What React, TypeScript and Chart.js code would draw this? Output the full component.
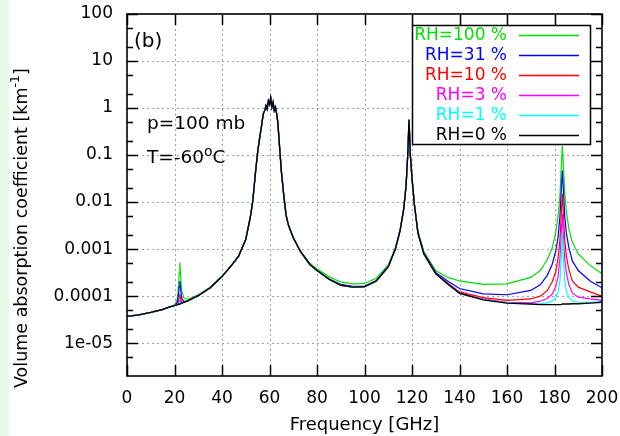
import React, { useEffect, useRef } from "react";
import { Chart, registerables } from "chart.js";

Chart.register(...registerables);

// Frequency grid [GHz]
const frequencyGHz = [
  0, 5, 10, 15, 18, 20, 21, 21.5, 22, 22.235, 22.5, 23, 24, 26, 30, 35, 40, 44, 47, 50,
  52, 53, 54, 55, 56, 56.5, 57, 57.5, 58, 58.5, 59, 59.5, 60, 60.5, 61, 61.5, 62, 62.5, 63, 63.5,
  64, 65, 66, 67, 68, 70, 73, 77, 80, 85, 90, 95, 100, 105, 110, 113, 115, 116.5, 117.5, 118.2,
  118.75, 119.3, 120, 121, 122.5, 125, 130, 135, 140, 150, 160, 170, 174, 177, 179, 180.5, 181.5, 182.3, 182.8, 183.31,
  183.8, 184.3, 185, 186, 187.5, 190, 195, 200,
];

// Volume absorption coefficient [km^-1]
const rh0 = [
  3.7e-5, 4.0e-5, 4.5e-5, 5.2e-5, 5.9e-5, 6.3e-5, 6.5e-5, 6.6e-5, 6.7e-5, 6.8e-5, 6.9e-5, 7.1e-5, 7.4e-5, 8.1e-5, 1.02e-4, 1.5e-4, 2.6e-4, 4.5e-4, 7.1e-4, 1.6e-3,
  5.0e-3, 1.1e-2, 3.8e-2, 0.115, 0.26, 0.37, 0.56, 0.79, 0.89, 1.12, 0.95, 1.41, 1.2, 1.66, 1.05, 1.32, 0.89, 1.05, 0.76, 0.5,
  0.22, 0.045, 0.014, 5.2e-3, 3.2e-3, 1.74e-3, 8.9e-4, 4.7e-4, 3.5e-4, 2.3e-4, 1.7e-4, 1.55e-4, 1.58e-4, 2.1e-4, 4.2e-4, 1.0e-3, 2.5e-3, 7.1e-3, 0.022, 0.1,
  0.56, 0.1, 0.032, 8.9e-3, 2.2e-3, 7.9e-4, 3.0e-4, 1.82e-4, 1.15e-4, 8.3e-5, 7.1e-5, 6.8e-5, 6.6e-5, 6.6e-5, 6.6e-5, 6.6e-5, 6.6e-5, 6.6e-5, 6.6e-5, 6.8e-5,
  6.8e-5, 6.8e-5, 6.8e-5, 6.8e-5, 6.9e-5, 6.9e-5, 7.1e-5, 7.4e-5,
];
const rh1 = [
  3.7e-5, 4.0e-5, 4.5e-5, 5.2e-5, 5.9e-5, 6.3e-5, 6.5e-5, 6.6e-5, 6.7e-5, 7.6e-5, 6.9e-5, 7.1e-5, 7.4e-5, 8.1e-5, 1.02e-4, 1.5e-4, 2.6e-4, 4.5e-4, 7.1e-4, 1.6e-3,
  5.0e-3, 1.1e-2, 3.8e-2, 0.115, 0.26, 0.37, 0.56, 0.79, 0.89, 1.12, 0.95, 1.41, 1.2, 1.66, 1.05, 1.32, 0.89, 1.05, 0.76, 0.5,
  0.22, 0.045, 0.014, 5.2e-3, 3.2e-3, 1.74e-3, 8.9e-4, 4.7e-4, 3.5e-4, 2.3e-4, 1.7e-4, 1.55e-4, 1.58e-4, 2.1e-4, 4.2e-4, 1.0e-3, 2.5e-3, 7.1e-3, 0.022, 0.1,
  0.56, 0.1, 0.032, 8.9e-3, 2.2e-3, 7.9e-4, 3.0e-4, 1.82e-4, 1.15e-4, 8.4e-5, 7.2e-5, 6.8e-5, 6.9e-5, 7.2e-5, 7.9e-5, 9.3e-5, 1.2e-4, 2.2e-4, 6.3e-4, 2.4e-3,
  6.3e-4, 2.2e-4, 1.26e-4, 9.5e-5, 7.9e-5, 7.4e-5, 7.4e-5, 7.6e-5,
];
const rh3 = [
  3.7e-5, 4.0e-5, 4.5e-5, 5.2e-5, 5.9e-5, 6.3e-5, 6.5e-5, 6.6e-5, 7.8e-5, 8.7e-5, 7.8e-5, 7.1e-5, 7.4e-5, 8.1e-5, 1.02e-4, 1.5e-4, 2.6e-4, 4.5e-4, 7.1e-4, 1.6e-3,
  5.0e-3, 1.1e-2, 3.8e-2, 0.115, 0.26, 0.37, 0.56, 0.79, 0.89, 1.12, 0.95, 1.41, 1.2, 1.66, 1.05, 1.32, 0.89, 1.05, 0.76, 0.5,
  0.22, 0.045, 0.014, 5.2e-3, 3.2e-3, 1.74e-3, 8.9e-4, 4.7e-4, 3.5e-4, 2.3e-4, 1.7e-4, 1.56e-4, 1.59e-4, 2.1e-4, 4.2e-4, 1.0e-3, 2.5e-3, 7.1e-3, 0.022, 0.1,
  0.56, 0.1, 0.032, 8.9e-3, 2.2e-3, 7.9e-4, 3.0e-4, 1.84e-4, 1.18e-4, 8.7e-5, 7.4e-5, 7.2e-5, 7.8e-5, 8.9e-5, 1.1e-4, 1.58e-4, 2.6e-4, 6.3e-4, 1.78e-3, 5.6e-3,
  1.78e-3, 6.0e-4, 3.2e-4, 1.78e-4, 1.17e-4, 9.5e-5, 8.7e-5, 8.1e-5,
];
const rh10 = [
  3.7e-5, 4.0e-5, 4.5e-5, 5.2e-5, 5.9e-5, 6.3e-5, 6.6e-5, 7.1e-5, 9.5e-5, 1.12e-4, 9.3e-5, 7.4e-5, 7.4e-5, 8.1e-5, 1.02e-4, 1.5e-4, 2.6e-4, 4.5e-4, 7.1e-4, 1.6e-3,
  5.0e-3, 1.1e-2, 3.8e-2, 0.115, 0.26, 0.37, 0.56, 0.79, 0.89, 1.12, 0.95, 1.41, 1.2, 1.66, 1.05, 1.32, 0.89, 1.05, 0.76, 0.5,
  0.22, 0.045, 0.014, 5.2e-3, 3.2e-3, 1.74e-3, 8.9e-4, 4.7e-4, 3.5e-4, 2.3e-4, 1.72e-4, 1.58e-4, 1.6e-4, 2.1e-4, 4.2e-4, 1.0e-3, 2.5e-3, 7.1e-3, 0.022, 0.1,
  0.56, 0.1, 0.032, 8.9e-3, 2.2e-3, 8.0e-4, 3.05e-4, 1.9e-4, 1.23e-4, 9.3e-5, 8.1e-5, 8.7e-5, 1.0e-4, 1.32e-4, 2.0e-4, 3.3e-4, 6.3e-4, 1.58e-3, 5.0e-3, 0.015,
  5.0e-3, 1.58e-3, 7.1e-4, 3.8e-4, 2.1e-4, 1.55e-4, 1.23e-4, 1.0e-4,
];
const rh31 = [
  3.7e-5, 4.0e-5, 4.5e-5, 5.2e-5, 5.9e-5, 6.3e-5, 7.1e-5, 8.9e-5, 1.6e-4, 2.1e-4, 1.6e-4, 8.9e-5, 7.6e-5, 8.2e-5, 1.03e-4, 1.5e-4, 2.6e-4, 4.5e-4, 7.1e-4, 1.6e-3,
  5.0e-3, 1.1e-2, 3.8e-2, 0.115, 0.26, 0.37, 0.56, 0.79, 0.89, 1.12, 0.95, 1.41, 1.2, 1.66, 1.05, 1.32, 0.89, 1.05, 0.76, 0.5,
  0.22, 0.045, 0.014, 5.2e-3, 3.2e-3, 1.74e-3, 8.9e-4, 4.7e-4, 3.55e-4, 2.35e-4, 1.78e-4, 1.62e-4, 1.64e-4, 2.15e-4, 4.3e-4, 1.0e-3, 2.5e-3, 7.1e-3, 0.022, 0.1,
  0.56, 0.1, 0.032, 8.9e-3, 2.2e-3, 8.3e-4, 3.2e-4, 2.1e-4, 1.45e-4, 1.12e-4, 1.07e-4, 1.32e-4, 1.74e-4, 2.8e-4, 4.7e-4, 8.9e-4, 1.78e-3, 5.0e-3, 0.016, 0.047,
  0.016, 5.0e-3, 2.2e-3, 1.12e-3, 5.6e-4, 3.5e-4, 2.1e-4, 1.5e-4,
];
const rh100 = [
  3.7e-5, 4.0e-5, 4.5e-5, 5.2e-5, 5.9e-5, 6.5e-5, 7.9e-5, 1.2e-4, 3.2e-4, 5.2e-4, 3.2e-4, 1.3e-4, 8.9e-5, 8.7e-5, 1.07e-4, 1.55e-4, 2.7e-4, 4.6e-4, 7.2e-4, 1.6e-3,
  5.0e-3, 1.1e-2, 3.8e-2, 0.115, 0.26, 0.37, 0.56, 0.79, 0.89, 1.12, 0.95, 1.41, 1.2, 1.66, 1.05, 1.32, 0.89, 1.05, 0.76, 0.5,
  0.22, 0.045, 0.014, 5.2e-3, 3.2e-3, 1.78e-3, 9.3e-4, 5.0e-4, 3.8e-4, 2.6e-4, 2.0e-4, 1.82e-4, 1.86e-4, 2.4e-4, 4.6e-4, 1.07e-3, 2.6e-3, 7.1e-3, 0.022, 0.1,
  0.56, 0.1, 0.032, 9.3e-3, 2.4e-3, 8.9e-4, 3.5e-4, 2.5e-4, 2.1e-4, 1.78e-4, 1.82e-4, 2.5e-4, 3.5e-4, 6.0e-4, 1.05e-3, 2.2e-3, 5.0e-3, 0.014, 0.05, 0.155,
  0.05, 0.016, 6.3e-3, 2.8e-3, 1.41e-3, 7.9e-4, 4.5e-4, 3.0e-4,
];

const seriesLabels = ["RH=100 %", "RH=31 %", "RH=10 %", "RH=3 %", "RH=1 %", "RH=0 %"];
const seriesColors = ["#00e000", "#0000ff", "#ff0000", "#ff00ff", "#00ffff", "#000000"];

const xTickValues = [0, 20, 40, 60, 80, 100, 120, 140, 160, 180, 200];
const yTickValues = [1e-5, 1e-4, 1e-3, 0.01, 0.1, 1, 10, 100];
const yTickLabels = ["1e-05", "0.0001", "0.001", "0.01", "0.1", "1", "10", "100"];
const yMinorTickValues = [5e-6, 2e-5, 5e-5, 2e-4, 5e-4, 2e-3, 5e-3, 0.02, 0.05, 0.2, 0.5, 2, 5, 20, 50];

const panelLabel = "(b)";
const pressureLabel = "p=100 mb";
const temperatureLabel = ["T=-60", "o", "C"];
const xTitle = "Frequency [GHz]";
const yTitle = ["Volume absorption coefficient [km", "-1", "]"];

const FONT = "'DejaVu Sans', 'Liberation Sans', sans-serif";

const decor = {
  id: "decor",
  beforeDraw(chart: any) {
    const ctx = chart.ctx;
    ctx.save();
    ctx.fillStyle = "#ffffff";
    ctx.fillRect(0, 0, chart.width, chart.height);
    ctx.fillStyle = "#e6fbe6";
    ctx.fillRect(0, 0, 9, chart.height);
    ctx.restore();
  },
  beforeDatasetsDraw(chart: any) {
    const { ctx, chartArea: a, scales } = chart;
    const x = scales.x, y = scales.y;
    ctx.save();
    ctx.strokeStyle = "#a0a0a0";
    ctx.lineWidth = 1;
    ctx.setLineDash([2, 3]);
    xTickValues.forEach((v) => {
      if (v <= 0 || v >= 200) return;
      const px = Math.round(x.getPixelForValue(v)) + 0.5;
      ctx.beginPath();
      ctx.moveTo(px, a.top);
      ctx.lineTo(px, a.bottom);
      ctx.stroke();
    });
    yTickValues.forEach((v) => {
      if (v >= 100) return;
      const py = Math.round(y.getPixelForValue(v)) + 0.5;
      ctx.beginPath();
      ctx.moveTo(a.left, py);
      ctx.lineTo(a.right, py);
      ctx.stroke();
    });
    ctx.restore();
  },
  afterDatasetsDraw(chart: any) {
    const { ctx, chartArea: a, scales } = chart;
    const x = scales.x, y = scales.y;
    ctx.save();
    ctx.setLineDash([]);
    ctx.strokeStyle = "#000";
    ctx.lineWidth = 1.5;
    const major = 11, minor = 6;
    ctx.beginPath();
    xTickValues.forEach((v) => {
      const px = Math.round(x.getPixelForValue(v)) + 0.5;
      ctx.moveTo(px, a.bottom);
      ctx.lineTo(px, a.bottom - major);
      ctx.moveTo(px, a.top);
      ctx.lineTo(px, a.top + major);
    });
    yTickValues.forEach((v) => {
      const py = Math.round(y.getPixelForValue(v)) + 0.5;
      ctx.moveTo(a.left, py);
      ctx.lineTo(a.left + major, py);
      ctx.moveTo(a.right, py);
      ctx.lineTo(a.right - major, py);
    });
    yMinorTickValues.forEach((v) => {
      const py = Math.round(y.getPixelForValue(v)) + 0.5;
      ctx.moveTo(a.left, py);
      ctx.lineTo(a.left + minor, py);
      ctx.moveTo(a.right, py);
      ctx.lineTo(a.right - minor, py);
    });
    ctx.stroke();
    ctx.lineWidth = 1.6;
    ctx.strokeRect(a.left, a.top, a.right - a.left, a.bottom - a.top);

    // legend box
    const bx = 412.5, by = 25.5, bw = 178, bh = 119;
    ctx.fillStyle = "#fff";
    ctx.fillRect(bx, by, bw, bh);
    ctx.strokeStyle = "#000";
    ctx.lineWidth = 1.5;
    ctx.strokeRect(bx, by, bw, bh);
    ctx.font = `17px ${FONT}`;
    ctx.textAlign = "right";
    ctx.textBaseline = "middle";
    seriesLabels.forEach((lab, i) => {
      const ry = 35 + i * 20;
      ctx.fillStyle = seriesColors[i];
      ctx.fillText(lab, 507, ry + 1);
    });
    seriesLabels.forEach((_lab, i) => {
      const ry = 35 + i * 20;
      ctx.strokeStyle = seriesColors[i];
      ctx.lineWidth = 1.3;
      ctx.beginPath();
      ctx.moveTo(519, ry + 0.5);
      ctx.lineTo(579, ry + 0.5);
      ctx.stroke();
    });

    // annotations
    ctx.fillStyle = "#000";
    ctx.textAlign = "left";
    ctx.textBaseline = "middle";
    ctx.font = `20px ${FONT}`;
    ctx.fillText(panelLabel, 134, 42);
    ctx.font = `18.5px ${FONT}`;
    ctx.fillText(pressureLabel, 147, 124);
    const t0 = temperatureLabel[0];
    ctx.fillText(t0, 147, 158);
    let tx = 147 + ctx.measureText(t0).width;
    ctx.font = `14px ${FONT}`;
    ctx.fillText(temperatureLabel[1], tx, 152);
    tx += ctx.measureText(temperatureLabel[1]).width;
    ctx.font = `18.5px ${FONT}`;
    ctx.fillText(temperatureLabel[2], tx, 158);

    // axis titles
    ctx.font = `18px ${FONT}`;
    ctx.textAlign = "center";
    ctx.fillText(xTitle, (a.left + a.right) / 2, 425);

    ctx.translate(22, 388);
    ctx.rotate(-Math.PI / 2);
    ctx.textAlign = "left";
    ctx.font = `17.5px ${FONT}`;
    ctx.fillText(yTitle[0], 0, 0);
    let yx = ctx.measureText(yTitle[0]).width;
    ctx.font = `12.5px ${FONT}`;
    ctx.fillText(yTitle[1], yx, -6);
    yx += ctx.measureText(yTitle[1]).width;
    ctx.font = `17.5px ${FONT}`;
    ctx.fillText(yTitle[2], yx, 0);
    ctx.restore();
  },
};

export default function App() {
  const ref = useRef<HTMLCanvasElement>(null);
  useEffect(() => {
    const canvas = ref.current;
    if (!canvas) return;
    const order = [5, 4, 3, 2, 1, 0];
    const allSeries = [rh100, rh31, rh10, rh3, rh1, rh0];
    const datasets = order.map((k) => ({
      label: seriesLabels[k],
      data: frequencyGHz.map((f, i) => ({ x: f, y: allSeries[k][i] })),
      borderColor: seriesColors[k],
      backgroundColor: seriesColors[k],
      borderWidth: k === 5 ? 1.4 : 1.2,
      pointRadius: 0,
      tension: 0,
      fill: false,
    }));
    const chart = new Chart(canvas, {
      type: "line",
      data: { datasets },
      options: {
        responsive: false,
        animation: false,
        devicePixelRatio: 1,
        layout: { padding: { left: 0, right: 18, top: 14, bottom: 0 } },
        plugins: { legend: { display: false }, tooltip: { enabled: false } },
        scales: {
          x: {
            type: "linear",
            min: 0,
            max: 200,
            afterFit: (s: any) => {
              s.height = 60;
              s.paddingLeft = 0;
              s.paddingRight = 0;
            },
            afterBuildTicks: (s: any) => {
              s.ticks = xTickValues.map((v) => ({ value: v }));
            },
            ticks: {
              autoSkip: false,
              maxRotation: 0,
              padding: 12,
              color: "#000",
              font: { family: FONT, size: 17 },
              callback: (v: any) => String(v),
            },
            grid: { display: false, drawTicks: false },
            border: { display: false },
          },
          y: {
            type: "logarithmic",
            min: 2e-6,
            max: 100,
            afterFit: (s: any) => {
              s.width = 127;
              s.paddingTop = 0;
              s.paddingBottom = 0;
            },
            afterBuildTicks: (s: any) => {
              s.ticks = yTickValues.map((v) => ({ value: v }));
            },
            ticks: {
              autoSkip: false,
              padding: 14,
              color: "#000",
              font: { family: FONT, size: 17 },
              callback: (_v: any, i: number) => yTickLabels[i],
            },
            grid: { display: false, drawTicks: false },
            border: { display: false },
          },
        },
      },
      plugins: [decor],
    });
    return () => chart.destroy();
  }, []);
  return (
    <div style={{ position: "fixed", left: 0, top: 0, width: 620, height: 436, background: "#fff" }}>
      <canvas ref={ref} width={620} height={436} style={{ display: "block", width: 620, height: 436 }} />
    </div>
  );
}
